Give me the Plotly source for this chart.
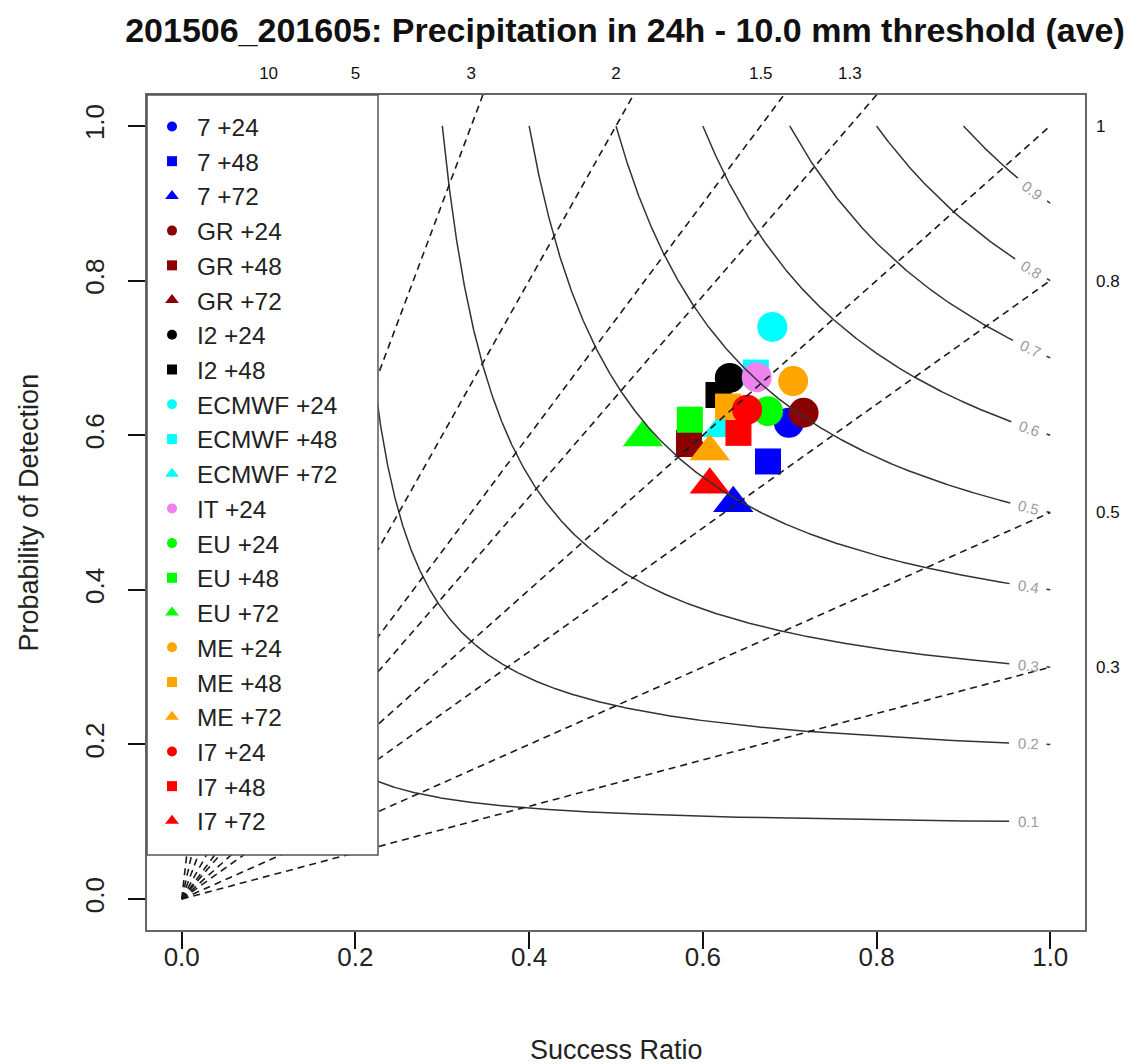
import numpy as np
import plotly.graph_objects as go

# ---------------- data ----------------
labels = ["7 +24", "7 +48", "7 +72",
          "GR +24", "GR +48", "GR +72",
          "I2 +24", "I2 +48",
          "ECMWF +24", "ECMWF +48", "ECMWF +72",
          "IT +24",
          "EU +24", "EU +48", "EU +72",
          "ME +24", "ME +48", "ME +72",
          "I7 +24", "I7 +48", "I7 +72"]
success_ratio = [0.699, 0.675, 0.635,
                 0.716, 0.584, 0.590,
                 0.631, 0.618,
                 0.680, 0.661, 0.622,
                 0.662,
                 0.675, 0.585, 0.531,
                 0.704, 0.629, 0.608,
                 0.651, 0.641, 0.608]
prob_detection = [0.616, 0.566, 0.512,
                  0.629, 0.590, 0.583,
                  0.674, 0.652,
                  0.740, 0.681, 0.609,
                  0.675,
                  0.631, 0.620, 0.597,
                  0.670, 0.637, 0.579,
                  0.633, 0.603, 0.536]
colors = ["blue", "blue", "blue",
          "#8B0000", "#8B0000", "#8B0000",
          "black", "black",
          "cyan", "cyan", "cyan",
          "violet",
          "#00FF00", "#00FF00", "#00FF00",
          "orange", "orange", "orange",
          "red", "red", "red"]
symbols = ["circle", "square", "triangle-up",
           "circle", "square", "triangle-up",
           "circle", "square",
           "circle", "square", "triangle-up",
           "circle",
           "circle", "square", "triangle-up",
           "circle", "square", "triangle-up",
           "circle", "square", "triangle-up"]

bias_levels = [0.3, 0.5, 0.8, 1, 1.3, 1.5, 2, 3, 5, 10]
bias_top_labels = ["10", "5", "3", "2", "1.5", "1.3"]
bias_top_values = [10, 5, 3, 2, 1.5, 1.3]
bias_right_labels = ["1", "0.8", "0.5", "0.3"]
bias_right_values = [1, 0.8, 0.5, 0.3]
csi_levels = [0.1, 0.2, 0.3, 0.4, 0.5, 0.6, 0.7, 0.8, 0.9]
axis_ticks = [0.0, 0.2, 0.4, 0.6, 0.8, 1.0]
axis_ticktext = ["0.0", "0.2", "0.4", "0.6", "0.8", "1.0"]

title_text = "201506_201605: Precipitation in 24h - 10.0 mm threshold (ave)"

# ---------------- layout constants ----------------
W, H = 1138, 1064
ML, MR, MT, MB = 147, 53, 95, 134
PW, PH = W - ML - MR, H - MT - MB
RNG = [-0.04, 1.04]
kx = PW / (RNG[1] - RNG[0])
ky = PH / (RNG[1] - RNG[0])
FONT = "Liberation Sans, Arial, sans-serif"
LEG_RIGHT_PX, LEG_BOTTOM_PX = 378, 855

size_map = {"circle": 30, "square": 26, "triangle-up": 35}
legend_size_map = {"circle": 10, "square": 10, "triangle-up": 12}

fig = go.Figure()

# bias lines (dashed)
bx, by = [], []
for b in bias_levels:
    bx += [0, 1, None]
    by += [0, b, None]
fig.add_trace(go.Scatter(x=bx, y=by, mode="lines", xaxis="x2", yaxis="y",
                         line=dict(color="#1a1a1a", width=1.6, dash="7px,5px"),
                         showlegend=False, hoverinfo="skip"))

# CSI curves
annotations = []
cx, cy = [], []
for c in csi_levels:
    sr = np.linspace(c, 1.0, 1500)
    pod = 1.0 / (1.0 / c - 1.0 / sr + 1.0)
    seg = np.hypot(np.diff(sr) * kx, np.diff(pod) * ky)
    s_end = np.concatenate([np.cumsum(seg[::-1])[::-1], [0.0]])
    main = s_end >= 41
    cx += list(sr[main]) + [None]
    cy += list(pod[main]) + [None]
    if c > 0.15:
        tail = s_end <= 4
        cx += list(sr[tail]) + [None]
        cy += list(pod[tail]) + [None]
    i = int(np.argmin(np.abs(s_end - 22)))
    ang = np.degrees(np.arctan2(-(pod[i + 1] - pod[i - 1]) * ky, (sr[i + 1] - sr[i - 1]) * kx))
    annotations.append(dict(x=sr[i], y=pod[i], xref="x", yref="y", text=f"{c:.1f}",
                            showarrow=False, textangle=float(ang),
                            font=dict(family=FONT, size=15, color="#9a9a9a"),
                            xanchor="center", yanchor="middle"))
fig.add_trace(go.Scatter(x=cx, y=cy, mode="lines", xaxis="x", yaxis="y2",
                         line=dict(color="#333333", width=1.5),
                         showlegend=False, hoverinfo="skip"))

# data points
for i, lab in enumerate(labels):
    fig.add_trace(go.Scatter(x=[success_ratio[i]], y=[prob_detection[i]], mode="markers",
                             marker=dict(color=colors[i], symbol=symbols[i],
                                         size=size_map[symbols[i]]),
                             name=lab, showlegend=False))
# legend entries
for i, lab in enumerate(labels):
    fig.add_trace(go.Scatter(x=[None], y=[None], mode="markers",
                             marker=dict(color=colors[i], symbol=symbols[i],
                                         size=legend_size_map[symbols[i]]),
                             name=lab, legendgroup=lab, showlegend=True))

annotations += [
    dict(text="Success Ratio", x=0.5, y=(MB - (H - 1050)) / -PH, xref="paper", yref="paper",
         showarrow=False, font=dict(family=FONT, size=27, color="#222"), yanchor="middle"),
    dict(text="Probability of Detection", x=(28 - ML) / PW, y=0.5, xref="paper", yref="paper",
         showarrow=False, textangle=-90, font=dict(family=FONT, size=27, color="#222"),
         xanchor="center"),
]

# legend frame (white box covering the lines beneath the legend)
shapes = [dict(type="rect", xref="paper", yref="paper", layer="above",
               x0=0, x1=(LEG_RIGHT_PX - ML) / PW,
               y0=(MT + PH - LEG_BOTTOM_PX) / PH, y1=1,
               line=dict(color="#555", width=1.5), fillcolor="white")]

axis_common = dict(range=RNG, showgrid=False, zeroline=False)
fig.update_layout(
    width=W, height=H,
    margin=dict(l=ML, r=MR, t=MT, b=MB),
    paper_bgcolor="white", plot_bgcolor="white",
    title=dict(text="<b>" + title_text + "</b>", x=625 / W, xanchor="center",
               y=1 - 30 / H, yanchor="middle",
               font=dict(family=FONT, size=34, color="#111")),
    xaxis=dict(**axis_common, tickvals=axis_ticks, ticktext=axis_ticktext,
               ticks="outside", ticklen=17, tickwidth=1.5, tickcolor="#111",
               showline=True, mirror=True, linecolor="#666", linewidth=2,
               tickfont=dict(family=FONT, size=26, color="#222"),
               ticklabelstandoff=-14),
    yaxis=dict(**axis_common, tickvals=axis_ticks, ticktext=axis_ticktext,
               ticks="outside", ticklen=17, tickwidth=1.5, tickcolor="#111",
               showline=True, mirror=True, linecolor="#666", linewidth=2,
               tickangle=-90, tickfont=dict(family=FONT, size=26, color="#222"),
               ticklabelstandoff=14),
    xaxis2=dict(**axis_common, overlaying="x", side="top", anchor="y",
                tickvals=[1 / b for b in bias_top_values], ticktext=bias_top_labels,
                ticks="", showline=False,
                tickfont=dict(family=FONT, size=17, color="#111"),
                ticklabelstandoff=12),
    yaxis2=dict(**axis_common, overlaying="y", side="right", anchor="x",
                tickvals=bias_right_values, ticktext=bias_right_labels,
                ticks="", showline=False,
                tickfont=dict(family=FONT, size=17, color="#111"),
                ticklabelstandoff=10),
    legend=dict(x=0, y=1, xanchor="left", yanchor="top", xref="paper", yref="paper",
                bgcolor="rgba(0,0,0,0)", borderwidth=0,
                font=dict(family=FONT, size=24.4, color="#222"),
                title=dict(text="\u00a0", font=dict(size=7)),
                itemwidth=40, tracegroupgap=0, itemsizing="trace"),
    shapes=shapes,
    annotations=annotations,
)

fig.write_html("out.html")
